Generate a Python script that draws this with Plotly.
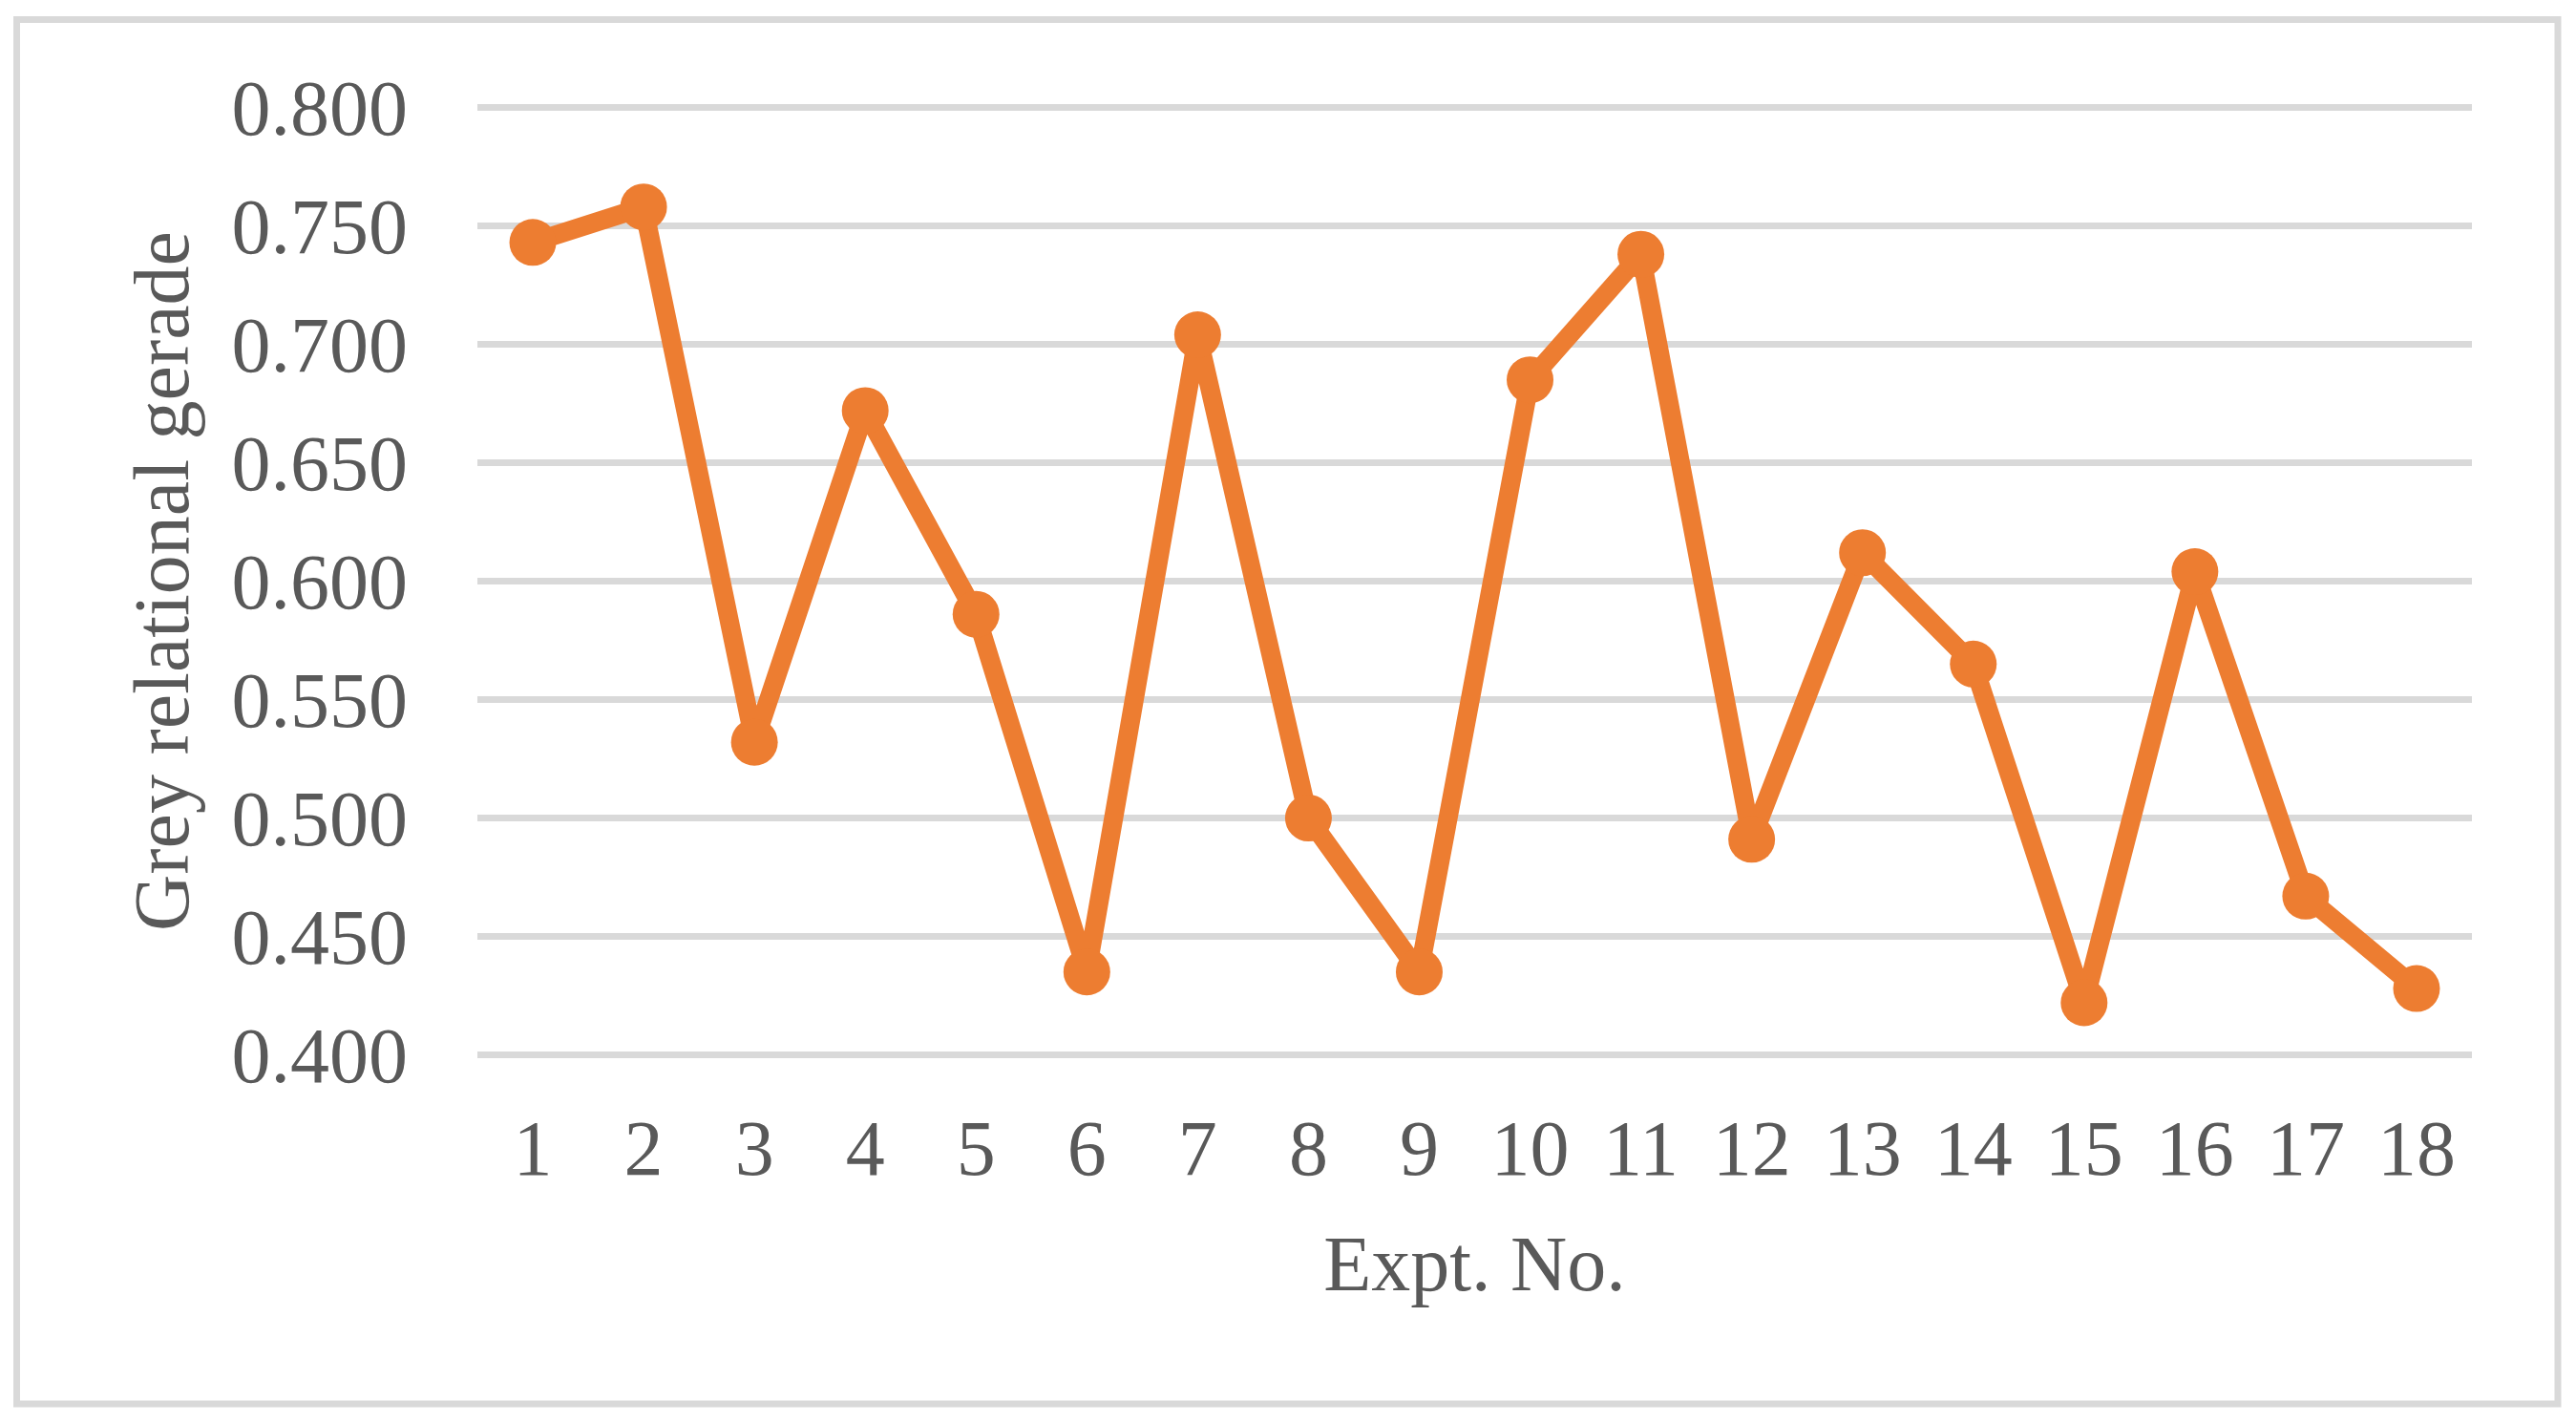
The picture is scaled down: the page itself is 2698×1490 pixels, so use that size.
import plotly.graph_objects as go

# Grey relational grade per experiment
expt_no = list(range(1, 19))
grey_grade = [0.743, 0.758, 0.532, 0.672, 0.586, 0.435, 0.704, 0.500, 0.435,
              0.685, 0.738, 0.491, 0.612, 0.565, 0.422, 0.604, 0.467, 0.428]
y_ticks = [0.400, 0.450, 0.500, 0.550, 0.600, 0.650, 0.700, 0.750, 0.800]

ORANGE = "#ED7D31"
GRID = "#D9D9D9"
TEXT = "#595959"
FONT = "Liberation Serif, Times New Roman, serif"

# page body has an 8px margin, so the figure is drawn 8px smaller
W, H = 2682, 1474
ml, mr, mt, mb = 492, 101, 102, 375
pw, ph = W - ml - mr, H - mt - mb

fig = go.Figure()
fig.add_trace(go.Scatter(
    x=expt_no, y=grey_grade,
    mode="lines+markers",
    line=dict(color=ORANGE, width=20),
    marker=dict(color=ORANGE, size=49),
    showlegend=False,
))

# outer chart border (in figure pixels)
bx0, bx1, by0, by1 = 9.5, 2671, 12.5, 1462
fig.update_layout(
    width=W, height=H,
    paper_bgcolor="white", plot_bgcolor="white",
    margin=dict(l=ml, r=mr, t=mt, b=mb),
    font=dict(family=FONT, size=82, color=TEXT),
    shapes=[dict(
        type="rect", xref="paper", yref="paper",
        x0=(bx0 - ml) / pw, x1=(bx1 - ml) / pw,
        y0=(H - mb - by1) / ph, y1=(H - mb - by0) / ph,
        line=dict(color=GRID, width=7), fillcolor="rgba(0,0,0,0)", layer="below",
    )],
)

fig.update_xaxes(
    range=[0.5, 18.5],
    tickmode="array", tickvals=expt_no, ticktext=[str(v) for v in expt_no],
    showgrid=False, zeroline=False, showline=False,
    ticks="", ticklabelstandoff=40,
    tickfont=dict(family=FONT, size=82, color=TEXT),
    title=dict(text="Expt. No.", font=dict(family=FONT, size=82, color=TEXT), standoff=46),
)
fig.update_yaxes(
    range=[0.399, 0.801],
    tickmode="array", tickvals=y_ticks, ticktext=[f"{v:.3f}" for v in y_ticks],
    showgrid=True, gridcolor=GRID, gridwidth=6.5,
    zeroline=False, showline=False,
    ticks="", ticklabelstandoff=72,
    tickfont=dict(family=FONT, size=82, color=TEXT),
    title=dict(text="Grey relational gerade", font=dict(family=FONT, size=82, color=TEXT), standoff=17),
)

fig.write_html("out.html")
